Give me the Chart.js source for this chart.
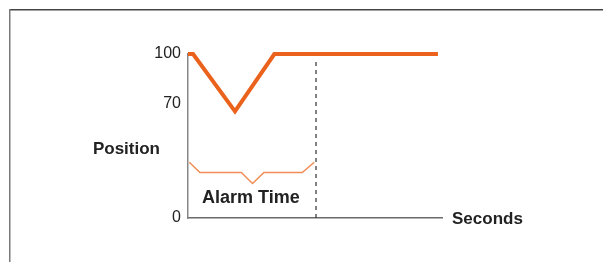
<!DOCTYPE html>
<html>
<head>
<meta charset="utf-8">
<script src="https://cdn.jsdelivr.net/npm/chart.js@4"></script>
<style>
  body { margin: 0; background: #fff; }
  canvas { display: block; }
</style>
</head>
<body>
<canvas id="alarmChart" width="603" height="262"></canvas>
<script>
// valve position over time (0-100 %)
const seconds = [0, 2, 18.5, 34, 98.4];
const position = [100, 100, 65, 100, 100];

// brace marking the alarm time
const braceX = [0.5, 4.7, 21, 25.4, 29.9, 45, 49.7];
const braceY = [34, 27.7, 27.7, 21, 27.7, 27.7, 34];

// end of alarm time (dashed marker)
const alarmEnd = 50.4;
const markerY = [0, 97.5];

const yTicks = [0, 70, 100];

const font = "'Liberation Sans', Arial, sans-serif";

const annotations = {
    id: "annotations",
    beforeDraw(chart) {
        const ctx = chart.ctx;
        ctx.save();
        ctx.lineWidth = 1.5;
        ctx.strokeStyle = "#444";
        ctx.beginPath();
        ctx.moveTo(9, 9.75);
        ctx.lineTo(603, 9.75);
        ctx.stroke();
        ctx.strokeStyle = "#7a7a7a";
        ctx.beginPath();
        ctx.moveTo(9.75, 9);
        ctx.lineTo(9.75, 262);
        ctx.stroke();
        ctx.restore();
    },
    afterDraw(chart) {
        const ctx = chart.ctx;
        const x = chart.scales.x, y = chart.scales.y;
        ctx.save();
        ctx.fillStyle = "#222";
        ctx.font = "bold 17px " + font;
        ctx.textBaseline = "middle";
        ctx.textAlign = "right";
        ctx.fillText("Position", x.left - 28, y.getPixelForValue(42));
        ctx.textAlign = "left";
        ctx.fillText("Seconds", x.right + 10, y.bottom + 1);
        ctx.font = "bold 18px " + font;
        ctx.fillText("Alarm Time", x.getPixelForValue(5.5), y.getPixelForValue(12));
        ctx.restore();
    }
};

new Chart(document.getElementById("alarmChart").getContext("2d"), {
    type: "line",
    data: {
        datasets: [{
            label: "Position",
            data: seconds.map((s, i) => ({ x: s, y: position[i] })),
            borderColor: "#ea621b",
            borderWidth: 4,
            pointRadius: 0,
            clip: false
        }, {
            label: "Alarm time",
            data: braceX.map((s, i) => ({ x: s, y: braceY[i] })),
            borderColor: "#f08c55",
            borderWidth: 1.5,
            pointRadius: 0,
            clip: false
        }, {
            label: "Alarm end",
            data: markerY.map(v => ({ x: alarmEnd, y: v })),
            borderColor: "#333",
            borderWidth: 1.2,
            borderDash: [4, 4],
            pointRadius: 0,
            clip: false
        }]
    },
    options: {
        responsive: false,
        animation: false,
        layout: {
            padding: { left: 128, top: 54, right: 161, bottom: 44 }
        },
        plugins: {
            legend: { display: false },
            tooltip: { enabled: false }
        },
        scales: {
            x: {
                type: "linear",
                min: 0,
                max: 100,
                grid: { display: false, drawTicks: false },
                ticks: { display: false },
                border: { color: "#6a6a6a", width: 1.5 },
                afterFit: s => { s.height = 0; }
            },
            y: {
                min: 0,
                max: 100,
                grid: { display: false, drawTicks: false },
                border: { color: "#888", width: 1.5 },
                afterFit: s => { s.width = 60; },
                afterBuildTicks: s => { s.ticks = yTicks.map(v => ({ value: v })); },
                ticks: {
                    color: "#222",
                    padding: 7,
                    font: { family: font, size: 16 }
                }
            }
        }
    },
    plugins: [annotations]
});
</script>
</body>
</html>
